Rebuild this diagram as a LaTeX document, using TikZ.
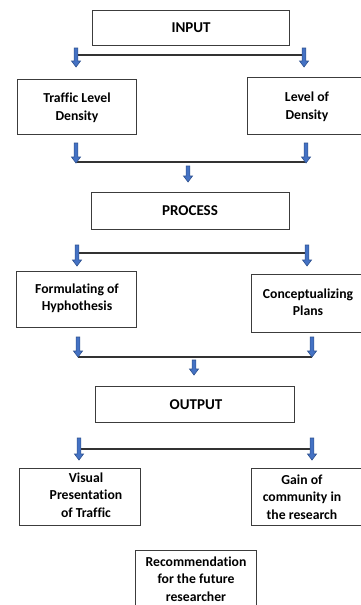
\documentclass[tikz,border=0pt]{standalone}
\usepackage{fontspec}
\setmainfont[Ligatures={NoCommon}]{Carlito}
\definecolor{boxline}{HTML}{3C3C3C}
\definecolor{conline}{HTML}{333333}
\definecolor{arrfill}{HTML}{4472C4}
\definecolor{arredge}{HTML}{2F528F}
\begin{document}
\begin{tikzpicture}[x=1pt,y=-1pt,
  box/.style={draw=boxline,line width=1.1pt,fill=white,inner sep=0pt,anchor=north west},
  head/.style={font=\fontsize{15}{18}\selectfont\bfseries,align=center,inner sep=0pt},
  txt/.style={font=\fontsize{13.7}{17.5}\selectfont\bfseries,align=center,inner sep=0pt},
  conn/.style={draw=conline,line width=1.1pt},
  pics/darr/.style={code={
    \filldraw[fill=arrfill,draw=arredge,line width=0.6pt,line join=miter]
      (-1.9,0) -- (-1.9,#1-6) -- (-4.5,#1-6) -- (0,#1) -- (4.5,#1-6) -- (1.9,#1-6) -- (1.9,0) -- cycle;}}]
\useasboundingbox (0,0) rectangle (361,605);
\clip (0,0) rectangle (361,605);
\fill[white] (0,0) rectangle (361,605);

% boxes
\node[box,minimum width=197pt,minimum height=35pt] (input) at (92,10) {};
\node[head] (inputtxt) at (input.center) {INPUT};
\node[box,minimum width=119pt,minimum height=55pt] (tld) at (17,79) {};
\node[txt] (tldtxt) at (77,108) {Traffic Level\\Density};
\node[box,minimum width=120pt,minimum height=57pt] (lod) at (247,77) {};
\node[txt] (lodtxt) at (307,107) {Level of\\Density};

\node[box,minimum width=198pt,minimum height=37pt] (process) at (91,192) {};
\node[head] (processtxt) at (190,211) {PROCESS};
\node[box,minimum width=120pt,minimum height=56pt] (form) at (16,271) {};
\node[txt] (formtxt) at (77,298.5) {Formulating of\\Hyphothesis};
\node[box,minimum width=120pt,minimum height=58pt] (conc) at (251,274) {};
\node[txt] (conctxt) at (308,302) {Conceptualizing\\Plans};

\node[box,minimum width=199pt,minimum height=36pt] (output) at (95,386) {};
\node[head] (outputtxt) at (196,405) {OUTPUT};
\node[box,minimum width=121pt,minimum height=57pt] (vis) at (19,468) {};
\node[txt] (vistxt) at (86,495) {Visual\\Presentation\\of Traffic};
\node[box,minimum width=120pt,minimum height=57pt] (gain) at (251,468) {};
\node[txt] (gaintxt) at (302,497) {Gain of\\community in\\the research};

\node[box,minimum width=121pt,minimum height=70pt] (rec) at (135,550) {};
\node[txt] (rectxt) at (196,579) {Recommendation\\for the future\\researcher};

% connector coordinates
\coordinate (r1l) at (76,55);   \coordinate (r1r) at (304,55);
\coordinate (r2l) at (76,162);  \coordinate (r2r) at (306,162);
\coordinate (r3l) at (77,253);  \coordinate (r3r) at (307,253);
\coordinate (r4l) at (78,357);  \coordinate (r4r) at (312,357);
\coordinate (r5l) at (79,449);  \coordinate (r5r) at (312,449);

\draw[conn] (r1l) -- (r1r);
\draw[conn] (r2l) -- (r2r);
\draw[conn] (r3l) -- (r3r);
\draw[conn] (r4l) -- (r4r);
\draw[conn] (r5l) -- (r5r);

% arrows
\pic at (76,48) {darr=19};
\pic at (304,48) {darr=19};
\pic at (76,143) {darr=20};
\pic at (306,143) {darr=20};
\pic at (188,166) {darr=16};
\pic at (77,245) {darr=21};
\pic at (307,245) {darr=21};
\pic at (78,337) {darr=20};
\pic at (312,337) {darr=20};
\pic at (194,360) {darr=15};
\pic at (79,438) {darr=22};
\pic at (312,438) {darr=22};
\end{tikzpicture}
\end{document}
